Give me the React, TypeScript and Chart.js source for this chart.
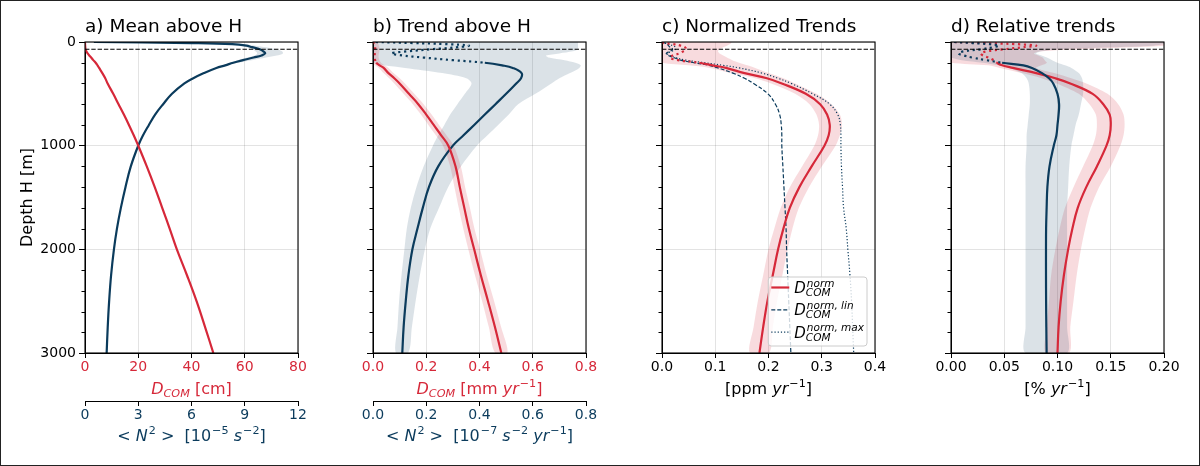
import React, { useEffect, useRef } from 'react';
import { Chart, registerables } from 'chart.js';

Chart.register(...registerables);

const FONT = '"DejaVu Sans", sans-serif';
const RED = '#d62839';
const BLUE = '#0b3b5c';
const RED_BAND = 'rgba(214,40,57,0.17)';
const BLUE_BAND = 'rgba(11,59,92,0.15)';
const GRID = 'rgba(0,0,0,0.11)';

// ---------------- data ----------------
const DEPTH = [0, 10, 20, 35, 50, 70, 90, 110, 130, 150, 175, 200, 225, 250, 300, 350, 400, 500, 600, 700, 800, 900, 1000, 1200, 1400, 1600, 1800, 2000, 2250, 2500, 2750, 3000];
const MLD = 70;

// a) mean above H
const A_DCOM = [0, 0, 0.02, 0.05, 0.1, 0.2, 0.5, 1.0, 1.6, 2.3, 3.1, 4.0, 4.7, 5.3, 6.5, 7.6, 8.5, 10.6, 12.6, 14.6, 16.5, 18.3, 20.0, 23.2, 26.2, 29.0, 31.8, 34.5, 38.3, 41.9, 45.1, 48.2];
const A_N2 = [0.5, 6.0, 8.3, 9.1, 9.4, 9.85, 10.05, 10.15, 9.95, 9.5, 8.9, 8.35, 7.9, 7.4, 6.7, 6.1, 5.6, 4.9, 4.4, 3.95, 3.6, 3.27, 3.0, 2.58, 2.28, 2.02, 1.8, 1.63, 1.47, 1.36, 1.28, 1.22];
const A_BAND_DEPTH = [0, 10, 20, 35, 50, 70, 90, 110, 130, 150, 175, 200, 225];
const A_N2_LO = [0.5, 6.0, 8.1, 8.8, 9.1, 9.45, 9.6, 9.7, 9.55, 9.15, 8.6, 8.2, 7.85];
const A_N2_HI = [0.5, 6.0, 8.5, 9.6, 10.2, 10.8, 11.1, 11.15, 10.8, 10.2, 9.4, 8.6, 7.95];

// b) trend above H
const B_DCOM = [0, 0.003, 0.005, 0.007, 0.008, 0.008, 0.008, 0.007, 0.006, 0.006, 0.008, 0.012, 0.025, 0.04, 0.058, 0.08, 0.1, 0.135, 0.17, 0.2, 0.228, 0.256, 0.283, 0.31, 0.326, 0.343, 0.36, 0.38, 0.405, 0.432, 0.458, 0.482];
const B_DCOM_LO = [0, 0, 0, 0, 0, 0, 0, 0, 0, 0, 0, 0, 0.008, 0.022, 0.04, 0.061, 0.08, 0.115, 0.15, 0.18, 0.208, 0.236, 0.263, 0.29, 0.306, 0.322, 0.339, 0.358, 0.383, 0.41, 0.435, 0.459];
const B_DCOM_HI = [0.015, 0.018, 0.02, 0.022, 0.024, 0.024, 0.024, 0.022, 0.021, 0.021, 0.024, 0.03, 0.043, 0.058, 0.077, 0.1, 0.12, 0.155, 0.19, 0.22, 0.248, 0.276, 0.303, 0.33, 0.346, 0.364, 0.381, 0.402, 0.427, 0.455, 0.481, 0.505];
const B_N2 = [0.01, 0.15, 0.27, 0.36, 0.32, 0.22, 0.13, 0.07, 0.11, 0.19, 0.3, 0.42, 0.485, 0.525, 0.558, 0.556, 0.538, 0.5, 0.46, 0.42, 0.38, 0.34, 0.3, 0.245, 0.21, 0.187, 0.167, 0.148, 0.133, 0.123, 0.115, 0.11];
const B_N2_LO = [0, 0, 0, 0, 0, 0, 0, 0, 0, 0, 0, 0, 0.04, 0.12, 0.26, 0.35, 0.37, 0.345, 0.317, 0.29, 0.268, 0.245, 0.225, 0.19, 0.163, 0.142, 0.127, 0.118, 0.107, 0.098, 0.092, 0.086];
const B_N2_HI = [0.77, 0.77, 0.77, 0.77, 0.77, 0.77, 0.75, 0.7, 0.65, 0.66, 0.72, 0.76, 0.78, 0.775, 0.74, 0.7, 0.67, 0.61, 0.545, 0.51, 0.47, 0.43, 0.39, 0.33, 0.282, 0.248, 0.215, 0.195, 0.176, 0.16, 0.146, 0.132];

// c) normalized trends
const C_NORM = [0, 0.003, 0.02, 0.035, 0.043, 0.045, 0.04, 0.033, 0.02, 0.015, 0.03, 0.07, 0.095, 0.12, 0.155, 0.197, 0.225, 0.27, 0.297, 0.31, 0.315, 0.313, 0.305, 0.281, 0.258, 0.24, 0.228, 0.218, 0.208, 0.198, 0.19, 0.183];
const C_NORM_LO = [0, 0, 0, 0, 0, 0, 0, 0, 0, 0, 0, 0, 0.05, 0.09, 0.13, 0.175, 0.205, 0.25, 0.277, 0.29, 0.295, 0.293, 0.286, 0.263, 0.24, 0.223, 0.211, 0.2, 0.19, 0.18, 0.172, 0.165];
const C_NORM_HI = [0.13, 0.13, 0.128, 0.122, 0.115, 0.108, 0.105, 0.108, 0.115, 0.122, 0.132, 0.145, 0.16, 0.175, 0.2, 0.228, 0.25, 0.29, 0.318, 0.334, 0.338, 0.334, 0.326, 0.3, 0.276, 0.257, 0.245, 0.236, 0.226, 0.216, 0.208, 0.201];
const C_LIN = [0, 0.005, 0.01, 0.012, 0.015, 0.02, 0.015, 0.008, 0.012, 0.022, 0.035, 0.06, 0.087, 0.105, 0.133, 0.155, 0.172, 0.199, 0.213, 0.221, 0.224, 0.225, 0.225, 0.227, 0.229, 0.231, 0.233, 0.234, 0.236, 0.238, 0.24, 0.242];
const C_MAX = [0, 0.005, 0.012, 0.02, 0.025, 0.025, 0.018, 0.01, 0.015, 0.025, 0.045, 0.08, 0.115, 0.145, 0.188, 0.218, 0.243, 0.283, 0.315, 0.33, 0.335, 0.336, 0.336, 0.337, 0.339, 0.341, 0.346, 0.349, 0.353, 0.356, 0.358, 0.36];

// d) relative trends
const D_DCOM = [0.003, 0.03, 0.06, 0.08, 0.068, 0.05, 0.034, 0.028, 0.03, 0.035, 0.04, 0.043, 0.048, 0.058, 0.08, 0.098, 0.112, 0.133, 0.143, 0.149, 0.15, 0.149, 0.146, 0.137, 0.127, 0.119, 0.114, 0.11, 0.106, 0.103, 0.101, 0.1];
const D_DCOM_LO = [0, 0, 0, 0, 0, 0, 0, 0, 0, 0, 0, 0, 0.035, 0.046, 0.067, 0.085, 0.099, 0.12, 0.13, 0.136, 0.137, 0.136, 0.133, 0.124, 0.115, 0.107, 0.102, 0.098, 0.094, 0.092, 0.09, 0.089];
const D_DCOM_HI = [0.2, 0.2, 0.2, 0.2, 0.17, 0.12, 0.085, 0.078, 0.082, 0.086, 0.088, 0.09, 0.085, 0.08, 0.097, 0.113, 0.127, 0.147, 0.157, 0.162, 0.163, 0.162, 0.159, 0.15, 0.139, 0.131, 0.126, 0.122, 0.118, 0.115, 0.112, 0.111];
const D_N2 = [0.003, 0.02, 0.035, 0.045, 0.04, 0.028, 0.012, 0.007, 0.012, 0.02, 0.033, 0.048, 0.068, 0.076, 0.0855, 0.092, 0.096, 0.1, 0.1015, 0.101, 0.1, 0.099, 0.0965, 0.0925, 0.0905, 0.0898, 0.0893, 0.0892, 0.0892, 0.0893, 0.0895, 0.0898];
const D_N2_LO = [0, 0, 0, 0, 0, 0, 0, 0, 0, 0, 0.01, 0.03, 0.045, 0.055, 0.066, 0.071, 0.073, 0.074, 0.074, 0.073, 0.072, 0.071, 0.071, 0.07, 0.07, 0.07, 0.07, 0.07, 0.07, 0.07, 0.07, 0.07];
const D_N2_HI = [0.2, 0.2, 0.2, 0.19, 0.15, 0.1, 0.085, 0.08, 0.085, 0.09, 0.095, 0.1, 0.107, 0.113, 0.12, 0.123, 0.124, 0.124, 0.122, 0.12, 0.117, 0.115, 0.113, 0.111, 0.11, 0.109, 0.109, 0.109, 0.109, 0.109, 0.109, 0.109];

// ticks
const Y_TICKS = [0, 1000, 2000, 3000];
const Y_MINOR = [200, 400, 600, 800, 1200, 1400, 1600, 1800, 2200, 2400, 2600, 2800];
const A_X_TICKS = [0, 20, 40, 60, 80];
const A_X2_TICKS = [0, 3, 6, 9, 12];
const B_X_TICKS = [0, 0.2, 0.4, 0.6, 0.8];
const B_X2_TICKS = [0, 0.2, 0.4, 0.6, 0.8];
const C_X_TICKS = [0, 0.1, 0.2, 0.3, 0.4];
const D_X_TICKS = [0, 0.05, 0.1, 0.15, 0.2];

// ---------------- layout ----------------
const W = 1200;
const H = 466;
const Y_AXIS_W = 80;
const PLOT_W = 213;
const PAD_R = 20;
const CANVAS_W = Y_AXIS_W + PLOT_W + PAD_R;
const DOT = [2.2, 3.6];

// ---------------- rich text ----------------
type Run = { t: string; it?: boolean; sup?: string; sub?: string };
const fontStr = (size: number, it?: boolean) => `${it ? 'italic ' : ''}${size}px ${FONT}`;
const hasLetters = (s: string) => /[A-Za-z]/.test(s);

function runsWidth(ctx: CanvasRenderingContext2D, runs: Run[], size: number) {
  let w = 0;
  const ss = size * 0.7;
  for (const r of runs) {
    ctx.font = fontStr(size, r.it);
    w += ctx.measureText(r.t).width;
    let sw = 0;
    if (r.sup) { ctx.font = fontStr(ss, hasLetters(r.sup)); sw = Math.max(sw, ctx.measureText(r.sup).width + 1); }
    if (r.sub) { ctx.font = fontStr(ss, hasLetters(r.sub)); sw = Math.max(sw, ctx.measureText(r.sub).width); }
    w += sw;
  }
  return w;
}

function drawRuns(ctx: CanvasRenderingContext2D, runs: Run[], x: number, cy: number, size: number, color: string, align: 'center' | 'left') {
  const total = runsWidth(ctx, runs, size);
  let cx = align === 'center' ? x - total / 2 : x;
  const base = cy + 0.365 * size;
  const ss = size * 0.7;
  ctx.save();
  ctx.fillStyle = color;
  ctx.textAlign = 'left';
  ctx.textBaseline = 'alphabetic';
  for (const r of runs) {
    ctx.font = fontStr(size, r.it);
    ctx.fillText(r.t, cx, base);
    cx += ctx.measureText(r.t).width;
    let sw = 0;
    if (r.sup) {
      ctx.font = fontStr(ss, hasLetters(r.sup));
      ctx.fillText(r.sup, cx + 1, base - 0.42 * size);
      sw = Math.max(sw, ctx.measureText(r.sup).width + 1);
    }
    if (r.sub) {
      ctx.font = fontStr(ss, hasLetters(r.sub));
      ctx.fillText(r.sub, cx, base + 0.2 * size);
      sw = Math.max(sw, ctx.measureText(r.sub).width);
    }
    cx += sw;
  }
  ctx.restore();
}

// ---------------- datasets ----------------
const pts = (depths: number[], xs: number[]) => depths.map((d, i) => ({ x: xs[i], y: d }));

function lineDs(xs: number[], color: string, width: number, dotUntil?: number, dash?: number[]) {
  const ds: any = {
    data: pts(DEPTH, xs),
    showLine: true,
    borderColor: color,
    borderWidth: width,
    borderDash: dash || [],
    pointRadius: 0,
    pointHoverRadius: 0,
    tension: 0.4,
    fill: false,
    order: 2,
  };
  if (dotUntil !== undefined) {
    ds.segment = { borderDash: (c: any) => (DEPTH[c.p0DataIndex] < dotUntil ? DOT : undefined) };
  }
  return ds;
}

function bandDs(depths: number[], lo: number[], hi: number[], color: string) {
  return {
    data: [...pts(depths, lo), ...pts(depths, hi).reverse()],
    showLine: true,
    fill: 'shape',
    backgroundColor: color,
    borderColor: 'rgba(0,0,0,0)',
    borderWidth: 0,
    pointRadius: 0,
    pointHoverRadius: 0,
    tension: 0.3,
    order: 3,
  };
}

function refDs(xMax: number) {
  return {
    data: [{ x: 0, y: MLD }, { x: xMax, y: MLD }],
    showLine: true,
    borderColor: '#000',
    borderWidth: 1.2,
    borderDash: [4.4, 1.9],
    pointRadius: 0,
    pointHoverRadius: 0,
    tension: 0,
    fill: false,
    order: 1,
  };
}

// ---------------- panels ----------------
type LegendItem = { runs: Run[]; color: string; width: number; dash: number[] };
type Panel = {
  key: string;
  plotLeft: number;
  title: string;
  xMax: number;
  xTicks: number[];
  xDigits: number;
  xColor: string;
  xTitle: Run[];
  x2?: { max: number; ticks: number[]; digits: number; title: Run[] };
  yLabels: boolean;
  datasets: any[];
  legend?: LegendItem[];
};

const PANELS: Panel[] = [
  {
    key: 'a',
    plotLeft: 85,
    title: 'a) Mean above H',
    xMax: 80,
    xTicks: A_X_TICKS,
    xDigits: 0,
    xColor: RED,
    xTitle: [{ t: 'D', it: true, sub: 'COM' }, { t: ' [cm]' }],
    x2: {
      max: 12,
      ticks: A_X2_TICKS,
      digits: 0,
      title: [{ t: '< ' }, { t: 'N', it: true, sup: '2' }, { t: ' >  [10', sup: '−5' }, { t: ' ' }, { t: 's', it: true, sup: '−2' }, { t: ']' }],
    },
    yLabels: true,
    datasets: [
      refDs(80),
      lineDs(A_DCOM, RED, 2.2),
      { ...lineDs(A_N2, BLUE, 2.2), xAxisID: 'x2' },
      { ...bandDs(A_BAND_DEPTH, A_N2_LO, A_N2_HI, BLUE_BAND), xAxisID: 'x2' },
    ],
  },
  {
    key: 'b',
    plotLeft: 373,
    title: 'b) Trend above H',
    xMax: 0.8,
    xTicks: B_X_TICKS,
    xDigits: 1,
    xColor: RED,
    xTitle: [{ t: 'D', it: true, sub: 'COM' }, { t: ' [mm ' }, { t: 'yr', it: true, sup: '−1' }, { t: ']' }],
    x2: {
      max: 0.8,
      ticks: B_X2_TICKS,
      digits: 1,
      title: [{ t: '< ' }, { t: 'N', it: true, sup: '2' }, { t: ' >  [10', sup: '−7' }, { t: ' ' }, { t: 's', it: true, sup: '−2' }, { t: ' ' }, { t: 'yr', it: true, sup: '−1' }, { t: ']' }],
    },
    yLabels: false,
    datasets: [
      refDs(0.8),
      lineDs(B_DCOM, RED, 2.2, 200),
      { ...lineDs(B_N2, BLUE, 2.2, 200), xAxisID: 'x2' },
      bandDs(DEPTH, B_DCOM_LO, B_DCOM_HI, RED_BAND),
      { ...bandDs(DEPTH, B_N2_LO, B_N2_HI, BLUE_BAND), xAxisID: 'x2' },
    ],
  },
  {
    key: 'c',
    plotLeft: 662,
    title: 'c) Normalized Trends',
    xMax: 0.4,
    xTicks: C_X_TICKS,
    xDigits: 1,
    xColor: '#000',
    xTitle: [{ t: '[ppm ' }, { t: 'yr', it: true, sup: '−1' }, { t: ']' }],
    yLabels: false,
    datasets: [
      refDs(0.4),
      lineDs(C_NORM, RED, 2.2, 200),
      lineDs(C_LIN, BLUE, 1.2, undefined, [4, 2]),
      lineDs(C_MAX, BLUE, 1.2, undefined, [1.2, 2]),
      bandDs(DEPTH, C_NORM_LO, C_NORM_HI, RED_BAND),
    ],
    legend: [
      { runs: [{ t: 'D', it: true, sup: 'norm', sub: 'COM' }], color: RED, width: 2.2, dash: [] },
      { runs: [{ t: 'D', it: true, sup: 'norm, lin', sub: 'COM' }], color: BLUE, width: 1.2, dash: [4, 2] },
      { runs: [{ t: 'D', it: true, sup: 'norm, max', sub: 'COM' }], color: BLUE, width: 1.2, dash: [1.2, 2] },
    ],
  },
  {
    key: 'd',
    plotLeft: 951,
    title: 'd) Relative trends',
    xMax: 0.2,
    xTicks: D_X_TICKS,
    xDigits: 2,
    xColor: '#000',
    xTitle: [{ t: '[% ' }, { t: 'yr', it: true, sup: '−1' }, { t: ']' }],
    yLabels: false,
    datasets: [
      refDs(0.2),
      lineDs(D_N2, BLUE, 2.2, 200),
      lineDs(D_DCOM, RED, 2.2, 200),
      bandDs(DEPTH, D_N2_LO, D_N2_HI, BLUE_BAND),
      bandDs(DEPTH, D_DCOM_LO, D_DCOM_HI, RED_BAND),
    ],
  },
];

function drawLegend(ctx: CanvasRenderingContext2D, a: any, items: LegendItem[]) {
  const size = 15;
  let textW = 0;
  for (const it of items) textW = Math.max(textW, runsWidth(ctx, it.runs, size));
  const boxW = 26 + textW + 3;
  const boxH = 69;
  const right = a.right - 8;
  const bottom = a.bottom - 7;
  const left = right - boxW;
  const top = bottom - boxH;
  ctx.save();
  ctx.beginPath();
  const r = 3;
  ctx.moveTo(left + r, top);
  ctx.lineTo(right - r, top);
  ctx.quadraticCurveTo(right, top, right, top + r);
  ctx.lineTo(right, bottom - r);
  ctx.quadraticCurveTo(right, bottom, right - r, bottom);
  ctx.lineTo(left + r, bottom);
  ctx.quadraticCurveTo(left, bottom, left, bottom - r);
  ctx.lineTo(left, top + r);
  ctx.quadraticCurveTo(left, top, left + r, top);
  ctx.closePath();
  ctx.fillStyle = 'rgba(255,255,255,0.8)';
  ctx.fill();
  ctx.strokeStyle = '#cccccc';
  ctx.lineWidth = 1;
  ctx.stroke();
  items.forEach((it, i) => {
    const cy = top + 10.5 + i * 22.3;
    ctx.beginPath();
    ctx.strokeStyle = it.color;
    ctx.lineWidth = it.width;
    ctx.setLineDash(it.dash);
    ctx.moveTo(left + 3, cy);
    ctx.lineTo(left + 21, cy);
    ctx.stroke();
    ctx.setLineDash([]);
    drawRuns(ctx, it.runs, left + 26, cy, size, '#000', 'left');
  });
  ctx.restore();
}

function extrasPlugin(p: Panel) {
  return {
    id: 'extras_' + p.key,
    afterDraw(chart: any) {
      const ctx: CanvasRenderingContext2D = chart.ctx;
      const a = chart.chartArea;
      const ys = chart.scales.y;
      ctx.save();
      ctx.strokeStyle = '#000';
      ctx.lineWidth = 1;
      ctx.beginPath();
      for (const v of Y_MINOR) {
        const py = Math.round(ys.getPixelForValue(v)) + 0.5;
        ctx.moveTo(a.left - 3.5, py);
        ctx.lineTo(a.left, py);
      }
      ctx.stroke();
      ctx.lineWidth = 1.1;
      ctx.strokeRect(a.left, a.top, a.right - a.left, a.bottom - a.top);
      const cx = (a.left + a.right) / 2;
      drawRuns(ctx, p.xTitle, cx, a.bottom + 35, 16, p.xColor, 'center');
      if (p.x2) drawRuns(ctx, p.x2.title, cx, a.bottom + 82, 16, BLUE, 'center');
      if (p.legend) drawLegend(ctx, a, p.legend);
      ctx.restore();
    },
  };
}

function buildConfig(p: Panel): any {
  const tickFont = { family: FONT, size: 14 };
  const scales: any = {
    x: {
      type: 'linear',
      position: 'bottom',
      weight: 0,
      min: 0,
      max: p.xMax,
      afterBuildTicks: (s: any) => { s.ticks = p.xTicks.map((v) => ({ value: v })); },
      afterFit: (s: any) => { s.height = p.x2 ? 48 : H - 353; },
      ticks: { color: p.xColor, font: tickFont, padding: 1, maxRotation: 0, autoSkip: false, callback: (v: any) => Number(v).toFixed(p.xDigits) },
      grid: { color: GRID, lineWidth: 1, tickLength: 5, tickColor: '#000', tickWidth: 1, drawTicks: true },
      border: { display: true, color: '#000', width: 1 },
    },
    y: {
      type: 'linear',
      position: 'left',
      reverse: true,
      min: 0,
      max: 3000,
      afterBuildTicks: (s: any) => { s.ticks = Y_TICKS.map((v) => ({ value: v })); },
      afterFit: (s: any) => { s.width = Y_AXIS_W; },
      ticks: { color: '#000', font: tickFont, padding: 3, autoSkip: false, callback: (v: any) => (p.yLabels ? String(v) : '') },
      grid: { color: GRID, lineWidth: 1, tickLength: 6, tickColor: '#000', tickWidth: 1 },
      border: { display: true, color: '#000', width: 1 },
      title: p.yLabels
        ? { display: true, text: 'Depth H [m]', color: '#000', font: { family: FONT, size: 16 }, padding: { top: 13, bottom: 0 } }
        : { display: false },
    },
  };
  if (p.x2) {
    const x2 = p.x2;
    scales.x2 = {
      type: 'linear',
      position: 'bottom',
      weight: 1,
      min: 0,
      max: x2.max,
      afterBuildTicks: (s: any) => { s.ticks = x2.ticks.map((v) => ({ value: v })); },
      afterFit: (s: any) => { s.height = H - 353 - 48; },
      ticks: { color: BLUE, font: tickFont, padding: 1, maxRotation: 0, autoSkip: false, callback: (v: any) => Number(v).toFixed(x2.digits) },
      grid: { drawOnChartArea: false, tickLength: 5, tickColor: '#000', tickWidth: 1, color: '#000' },
      border: { display: true, color: '#000', width: 1 },
    };
  }
  return {
    type: 'scatter',
    data: { datasets: p.datasets },
    options: {
      responsive: false,
      animation: false,
      events: [],
      layout: { padding: { left: 0, right: PAD_R, top: 0, bottom: 0 }, autoPadding: false },
      plugins: {
        legend: { display: false },
        tooltip: { enabled: false },
        title: {
          display: true,
          text: p.title,
          align: 'start',
          fullSize: false,
          color: '#000',
          font: { family: FONT, size: 18.5, weight: 'normal' },
          padding: { top: 16.4, bottom: 3.4 },
        },
      },
      scales,
    },
    plugins: [extrasPlugin(p)],
  };
}

function PanelChart({ p }: { p: Panel }) {
  const ref = useRef<HTMLCanvasElement>(null);
  useEffect(() => {
    if (!ref.current) return;
    const chart = new Chart(ref.current, buildConfig(p));
    return () => chart.destroy();
  }, [p]);
  return (
    <canvas
      ref={ref}
      width={CANVAS_W}
      height={H}
      style={{ position: 'absolute', left: p.plotLeft - Y_AXIS_W, top: 0, width: CANVAS_W, height: H }}
    />
  );
}

export default function App() {
  Chart.defaults.font.family = FONT;
  Chart.defaults.color = '#000';
  return (
    <div style={{ position: 'absolute', left: 0, top: 0, width: W, height: H, background: '#fff', overflow: 'hidden' }}>
      {PANELS.map((p) => (
        <PanelChart key={p.key} p={p} />
      ))}
      <div
        style={{
          position: 'absolute',
          left: 0,
          top: 0,
          width: W,
          height: H,
          boxSizing: 'border-box',
          border: '1.5px solid #222',
          pointerEvents: 'none',
        }}
      />
    </div>
  );
}
